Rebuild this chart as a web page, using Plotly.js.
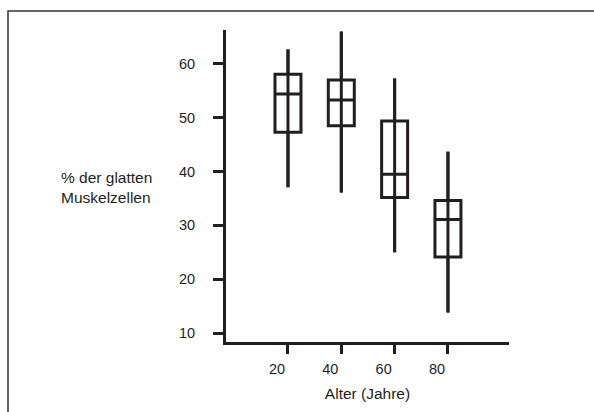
<!DOCTYPE html>
<html>
<head>
<meta charset="utf-8">
<script src="https://cdn.plot.ly/plotly-3.0.1.min.js"></script>
<style>
  html, body { margin: 0; padding: 0; background: #fff; }
  #chart { width: 594px; height: 412px; }
</style>
</head>
<body>
<div id="chart"></div>
<script>
// Data
const ages = [20, 40, 60, 80];
const whiskerLow = [37.1, 36.1, 25.0, 13.8];
const q1 = [47.3, 48.5, 35.2, 24.1];
const median = [54.4, 53.3, 39.5, 31.1];
const q3 = [58.1, 57.0, 49.4, 34.6];
const whiskerHigh = [62.7, 66.0, 57.3, 43.7];

const xTickVals = [20, 40, 60, 80];
const xTickText = ['20', '40', '60', '80'];
const yTickVals = [10, 20, 30, 40, 50, 60];
const yTickText = ['10', '20', '30', '40', '50', '60'];

const xTitle = 'Alter (Jahre)';
const yTitle = '% der glatten<br>Muskelzellen';

const ink = '#231f20';
const font = 'Liberation Sans, Arial, Helvetica, sans-serif';

// plot-area geometry (pixels)
const L = 226, R = 85, T = 30, B = 70;
const W = 594 - L - R, H = 412 - T - B;
const px = v => (v - L) / W;          // pixel x -> paper x
const py = v => (412 - B - v) / H;    // pixel y -> paper y

// vertical line through each box from the lower to the upper whisker end
const lineX = [], lineY = [];
ages.forEach((a, i) => {
  lineX.push(a, a, null);
  lineY.push(whiskerLow[i], whiskerHigh[i], null);
});

const traces = [
  {
    type: 'box',
    x: ages,
    q1: q1,
    median: median,
    q3: q3,
    lowerfence: whiskerLow,
    upperfence: whiskerHigh,
    width: 9.75,
    whiskerwidth: 0,
    boxpoints: false,
    line: { color: ink, width: 3 },
    fillcolor: 'rgba(255,255,255,0)',
    hoverinfo: 'skip',
    showlegend: false
  },
  {
    type: 'scatter',
    mode: 'lines',
    x: lineX,
    y: lineY,
    line: { color: ink, width: 3 },
    hoverinfo: 'skip',
    showlegend: false
  }
];

const layout = {
  width: 594,
  height: 412,
  margin: { l: L, r: R, t: T, b: B, pad: 0 },
  paper_bgcolor: '#fff',
  plot_bgcolor: '#fff',
  showlegend: false,
  font: { family: font, color: ink, size: 14 },
  xaxis: {
    range: [-3.25, 102.9],
    tickvals: xTickVals,
    ticktext: xTickText,
    ticks: 'outside',
    ticklen: 9,
    tickwidth: 3,
    tickcolor: ink,
    ticklabelshift: -11,
    ticklabelstandoff: 3,
    showline: true,
    linewidth: 3,
    linecolor: ink,
    showgrid: false,
    zeroline: false,
    tickfont: { size: 14.5, family: font, color: ink },
    title: { text: xTitle, font: { size: 15.5, family: font, color: ink }, standoff: 12 },
    automargin: false,
    fixedrange: true
  },
  yaxis: {
    range: [8.33, 66.3],
    tickvals: yTickVals,
    ticktext: yTickText,
    ticks: 'outside',
    ticklen: 10,
    tickwidth: 3,
    tickcolor: ink,
    ticklabelstandoff: 15,
    showline: true,
    linewidth: 3,
    linecolor: ink,
    showgrid: false,
    zeroline: false,
    tickfont: { size: 14.5, family: font, color: ink },
    automargin: false,
    fixedrange: true
  },
  annotations: [
    {
      text: yTitle,
      xref: 'paper', yref: 'paper',
      x: px(59), y: py(187),
      xanchor: 'left', yanchor: 'middle',
      align: 'left',
      showarrow: false,
      font: { size: 15.5, family: font, color: ink }
    }
  ],
  shapes: [
    {
      type: 'path',
      xref: 'paper', yref: 'paper',
      path: 'M ' + px(8) + ' ' + py(420) +
            ' L ' + px(8) + ' ' + py(11) +
            ' L ' + px(600) + ' ' + py(11),
      line: { color: '#333', width: 1.5 }
    }
  ]
};

Plotly.newPlot('chart', traces, layout, { displayModeBar: false, staticPlot: true });
</script>
</body>
</html>
